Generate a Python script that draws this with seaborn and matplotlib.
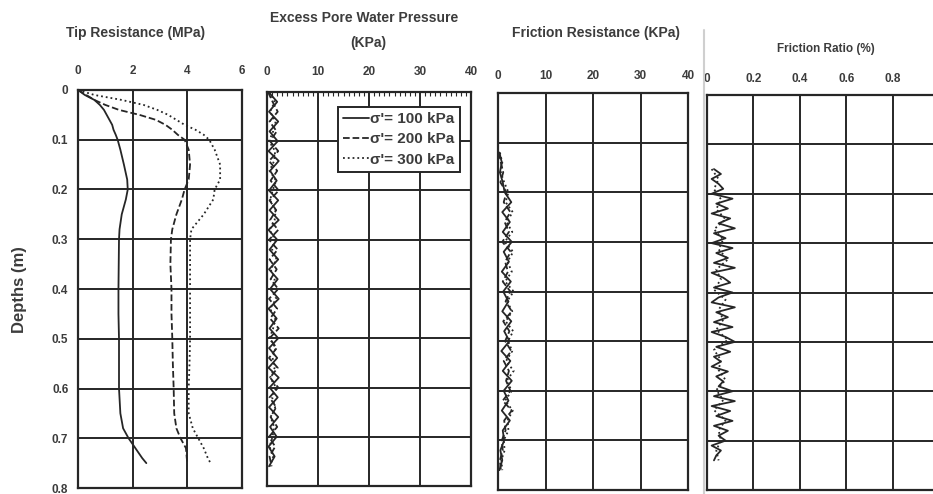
import numpy as np
import seaborn as sns
import matplotlib.pyplot as plt
from matplotlib.lines import Line2D

sns.set_style("white")
plt.rcParams["font.family"] = ["Liberation Sans", "DejaVu Sans"]
plt.rcParams["font.weight"] = "bold"

INK = "#262626"
TXT = "#3c3c3c"

# DATA

# Tip resistance (MPa) vs depth (m)
tip_depth = [0, 0.01, 0.02, 0.03, 0.04, 0.05, 0.06, 0.07, 0.08, 0.09, 0.10, 0.12, 0.15, 0.18,
             0.20, 0.22, 0.25, 0.28, 0.30, 0.35, 0.40, 0.45, 0.50, 0.55, 0.60, 0.65, 0.68,
             0.70, 0.72, 0.74, 0.75]
tip_100 = [0, 0.25, 0.6, 0.8, 0.95, 1.05, 1.15, 1.25, 1.3, 1.38, 1.45, 1.55, 1.68, 1.8,
           1.82, 1.75, 1.6, 1.52, 1.5, 1.49, 1.48, 1.48, 1.5, 1.5, 1.5, 1.55, 1.65,
           1.85, 2.1, 2.35, 2.5]
tip_200 = [0, 0.3, 0.6, 1.0, 1.5, 2.25, 2.85, 3.2, 3.45, 3.65, 3.9, 4.05, 4.1, 4.05,
           3.9, 3.8, 3.6, 3.45, 3.4, 3.38, 3.42, 3.42, 3.45, 3.47, 3.5, 3.52, 3.6,
           3.75, 3.95, 3.98, 4.0]
tip_300 = [0, 0.6, 1.6, 2.4, 2.9, 3.3, 3.6, 3.9, 4.3, 4.6, 4.8, 5.0, 5.2, 5.2,
           5.0, 4.95, 4.6, 4.15, 4.1, 4.1, 4.1, 4.1, 4.1, 4.08, 4.05, 4.05, 4.2,
           4.4, 4.6, 4.75, 4.85]

# Excess pore water pressure (kPa), every 0.02 m from 0 to 0.76 m
pwp_100 = [0.3, 2.0, 0.4, 2.2, 0.5, 2.1, 0.3, 2.3, 0.6, 1.9, 0.4, 2.2, 0.5, 2.3, 0.3, 2.0,
           0.5, 2.2, 0.4, 2.1, 0.6, 2.3, 0.3, 1.9, 0.5, 2.2, 0.4, 2.0, 0.3, 2.3, 0.5, 2.1,
           0.4, 2.2, 0.6, 1.9, 0.3, 1.5, 0.4]
pwp_200 = [0.2, 1.1, 2.1, 0.5, 1.9, 0.6, 2.2, 0.4, 2.0, 0.7, 2.3, 0.5, 1.8, 0.6, 2.2, 0.4,
           2.1, 0.5, 1.9, 0.7, 2.2, 0.4, 2.0, 0.6, 2.3, 0.5, 1.9, 0.4, 2.1, 0.6, 2.2, 0.5,
           1.8, 0.7, 2.0, 0.4, 1.6, 0.5, 0.9]
pwp_300 = [0.5, 1.5, 0.6, 1.7, 1.2, 0.4, 1.6, 1.4, 0.5, 1.8, 1.1, 0.6, 1.7, 1.5, 0.5, 1.6,
           1.0, 1.9, 0.7, 1.5, 1.1, 1.8, 0.6, 1.6, 1.2, 0.5, 1.7, 1.1, 1.5, 0.6, 1.8, 1.0,
           1.6, 0.7, 1.4, 1.1, 0.5, 1.2, 0.6]

# Friction resistance (kPa), every 0.02 m from 0.12 to 0.76 m
fric_100 = [0.3, 0.8, 0.4, 1.0, 1.4, 2.8, 0.9, 2.5, 1.0, 2.9, 1.2, 2.3, 0.8, 2.7, 1.1, 2.2,
            0.9, 2.8, 1.3, 2.4, 0.7, 2.6, 1.0, 2.9, 1.2, 2.2, 0.8, 2.5, 1.0, 1.3, 0.5, 0.9, 0.3]
fric_200 = [0.2, 0.6, 1.1, 0.5, 1.8, 1.2, 2.6, 1.4, 2.3, 0.9, 2.7, 1.5, 2.1, 1.0, 2.6, 1.6,
            2.9, 1.1, 2.4, 1.5, 2.8, 1.2, 2.3, 1.7, 2.6, 1.0, 2.9, 1.3, 1.6, 0.8, 1.0, 0.4, 0.6]
fric_300 = [0.4, 0.9, 0.6, 1.3, 2.2, 1.6, 3.1, 1.8, 3.0, 1.4, 3.2, 2.0, 2.9, 1.5, 3.3, 1.9,
            3.0, 1.6, 3.2, 2.1, 3.0, 1.7, 3.3, 1.8, 2.9, 1.5, 3.1, 2.0, 2.2, 1.2, 1.4, 0.7, 0.9]

# Friction ratio (%), solid every 0.01 m from 0.15 to 0.74 m, dotted every 0.02 m
ratio_100 = [0.03, 0.06, 0.02, 0.05, 0.07, 0.02, 0.11, 0.04, 0.09, 0.02, 0.10, 0.05, 0.12,
             0.03, 0.08, 0.02, 0.11, 0.04, 0.09, 0.03, 0.12, 0.02, 0.07, 0.10, 0.03, 0.11,
             0.05, 0.02, 0.12, 0.04, 0.09, 0.03, 0.11, 0.02, 0.08, 0.12, 0.04, 0.10, 0.03,
             0.06, 0.02, 0.09, 0.04, 0.07, 0.05, 0.11, 0.03, 0.12, 0.02, 0.10, 0.04, 0.11,
             0.03, 0.09, 0.05, 0.08, 0.02, 0.06, 0.04, 0.03]
ratio_300 = [0.02, 0.05, 0.03, 0.06, 0.04, 0.08, 0.03, 0.07, 0.05, 0.09, 0.04, 0.06, 0.03,
             0.08, 0.05, 0.07, 0.04, 0.09, 0.03, 0.06, 0.05, 0.08, 0.04, 0.07, 0.03, 0.08,
             0.05, 0.06, 0.04, 0.05]

pwp_depth = np.linspace(0, 0.76, len(pwp_100))
fric_depth = np.linspace(0.12, 0.76, len(fric_100))
ratio_depth = np.linspace(0.15, 0.74, len(ratio_100))
ratio_depth_300 = np.linspace(0.15, 0.74, len(ratio_300))

labels = ["σ'= 100 kPa", "σ'= 200 kPa", "σ'= 300 kPa"]
styles = ["-", "--", ":"]

# FIGURE

W, H = 933, 494
fig = plt.figure(figsize=(W / 100, H / 100), dpi=100)


def box(l, t, r, b):
    return [l / W, 1 - b / H, (r - l) / W, (b - t) / H]


ax1 = fig.add_axes(box(78, 90, 242, 488))
ax2 = fig.add_axes(box(267, 92, 471, 486))
ax3 = fig.add_axes(box(498, 93, 688, 490))
ax4 = fig.add_axes(box(707, 95, 939, 490))


def profile(ax, x, y, ls, label=None):
    sns.lineplot(x=x, y=y, ax=ax, sort=False, estimator=None, color=INK, lw=1.3,
                 linestyle=ls, label=label, legend=False)


for vals, ls in zip([tip_100, tip_200, tip_300], styles):
    profile(ax1, vals, tip_depth, ls)
for vals, ls, lab in zip([pwp_100, pwp_200, pwp_300], styles, labels):
    profile(ax2, vals, pwp_depth, ls, lab)
for vals, ls in zip([fric_100, fric_200, fric_300], styles):
    profile(ax3, vals, fric_depth, ls)
profile(ax4, ratio_100, ratio_depth, "-")
profile(ax4, ratio_300, ratio_depth_300, ":")


def style(ax, xmax, xticks, xlabels, pad):
    ax.set_xlim(0, xmax)
    ax.set_ylim(0.8, 0)
    ax.xaxis.tick_top()
    ax.set_xticks(xticks)
    ax.set_xticklabels(xlabels)
    ax.set_yticks(np.arange(0, 0.81, 0.1))
    ax.set_xlabel("")
    ax.set_ylabel("")
    ax.grid(True, color=INK, lw=1.4)
    ax.tick_params(axis="x", length=0, pad=pad, labelsize=8.5, labelcolor=TXT)
    ax.tick_params(axis="y", length=0, labelleft=False)
    ax.set_yticks(np.arange(0, 0.8, 0.02), minor=True)
    ax.tick_params(axis="y", which="minor", direction="in", length=3, width=0.8, color=INK)
    for sp in ax.spines.values():
        sp.set_color(INK)
        sp.set_linewidth(1.6)


style(ax1, 6, [0, 2, 4, 6], ["0", "2", "4", "6"], 9)
style(ax2, 40, [0, 10, 20, 30, 40], ["0", "10", "20", "30", "40"], 10)
style(ax3, 40, [0, 10, 20, 30, 40], ["0", "10", "20", "30", "40"], 8)
style(ax4, 1.0, [0, 0.2, 0.4, 0.6, 0.8], ["0", "0.2", "0.4", "0.6", "0.8"], 7)

ax1.tick_params(axis="y", labelleft=True, pad=7, labelsize=8.5, labelcolor=TXT)
ax1.set_yticklabels(["0", "0.1", "0.2", "0.3", "0.4", "0.5", "0.6", "0.7", "0.8"])
ax2.set_xticks(np.arange(0, 40, 1), minor=True)
ax2.tick_params(axis="x", which="minor", top=True, direction="in", length=3, width=0.8, color=INK)

leg = ax2.legend(loc="upper right", bbox_to_anchor=(0.946, 0.962), fontsize=11,
                 handlelength=1.7, handletextpad=0.1, borderpad=0.35, labelspacing=0.4,
                 borderaxespad=0, fancybox=False, framealpha=1, edgecolor=INK)
leg.get_frame().set_linewidth(1.4)
for t in leg.get_texts():
    t.set_color(TXT)

# Titles
fig.text(136 / W, 1 - 33 / H, "Tip Resistance (MPa)", ha="center", va="center",
         fontsize=10, color=TXT)
fig.text(364 / W, 1 - 18 / H, "Excess Pore Water Pressure", ha="center", va="center",
         fontsize=10, color=TXT)
fig.text(368 / W, 1 - 43 / H, "(KPa)", ha="center", va="center", fontsize=10, color=TXT)
fig.text(596 / W, 1 - 33 / H, "Friction Resistance (KPa)", ha="center", va="center",
         fontsize=10, color=TXT)
fig.text(826 / W, 1 - 49 / H, "Friction Ratio (%)", ha="center", va="center",
         fontsize=8.5, color=TXT)
fig.text(20 / W, 1 - 290 / H, "Depths (m)", ha="center", va="center", rotation=90,
         fontsize=12, color=TXT)

# scanned page edge
fig.add_artist(Line2D([704 / W, 704 / W], [0, 1 - 30 / H], color="#cfcfcf", lw=1.5))

fig.savefig("out.png", dpi=100, facecolor="white")
